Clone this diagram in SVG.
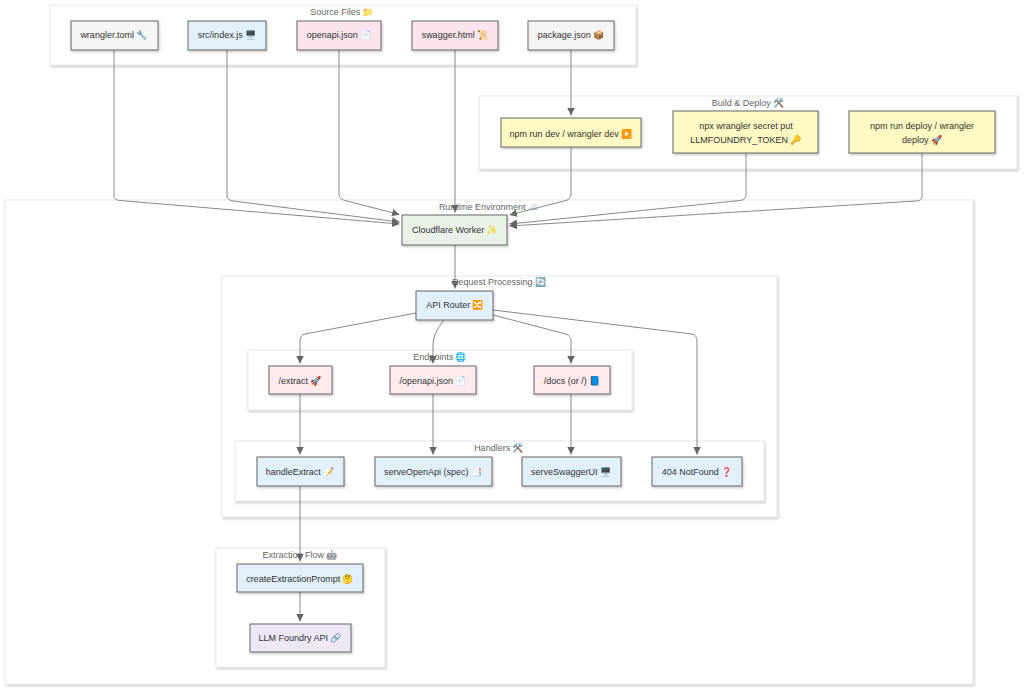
<svg xmlns="http://www.w3.org/2000/svg" width="1024" height="690" viewBox="0 0 1024 690">
<defs>
<marker id="arrow" viewBox="0 0 10 10" refX="10" refY="5" markerWidth="7.5" markerHeight="7.5" markerUnits="userSpaceOnUse" orient="auto"><path d="M0 0L10 5L0 10Z" fill="#666"/></marker>
<filter id="sh" x="-10%" y="-10%" width="120%" height="125%"><feDropShadow dx="1" dy="1.5" stdDeviation="1.3" flood-color="#000" flood-opacity=".22"/></filter>
</defs>
<style>
text{font-family:"Liberation Sans",Arial,"Noto Color Emoji",sans-serif;font-size:9px;fill:#333;text-anchor:middle}
.t{fill:#666}
.c rect{fill:#fff;stroke:#e8e8e8;stroke-width:1;filter:url(#sh)}
.n rect{stroke:#666;stroke-width:1;filter:url(#sh)}
.gray rect{fill:#f5f5f5}.blue rect{fill:#e1f0fb}.pink rect{fill:#fce4ec}.yel rect{fill:#fff9c4}.grn rect{fill:#e8f2e6}.rose rect{fill:#ffebee}.pur rect{fill:#ede7f6}
#connectors path{fill:none;stroke:#888;stroke-width:1;marker-end:url(#arrow)}
</style>
<rect width="1024" height="690" fill="#fff"/>
<g id="cluster-source" class="c"><rect x="50" y="5" width="586" height="60"/><text class="t" x="342" y="14.500">Source Files 📁</text></g>
<g id="cluster-build" class="c"><rect x="479" y="96" width="538" height="73"/><text class="t" x="748" y="105.500">Build &amp; Deploy 🛠️</text></g>
<g id="cluster-runtime" class="c"><rect x="5" y="200" width="968" height="484"/><text class="t" x="489" y="210">Runtime Environment ☁️</text></g>
<g id="cluster-request" class="c"><rect x="222" y="276" width="555" height="241"/><text class="t" x="499" y="285">Request Processing 🔄</text></g>
<g id="cluster-endpoints" class="c"><rect x="248" y="350" width="384" height="60"/><text class="t" x="440" y="360">Endpoints 🌐</text></g>
<g id="cluster-handlers" class="c"><rect x="235" y="441" width="529" height="60"/><text class="t" x="499" y="451">Handlers 🛠️</text></g>
<g id="cluster-extraction" class="c"><rect x="216" y="548" width="169" height="119"/><text class="t" x="300" y="558">Extraction Flow 🤖</text></g>
<g id="connectors">
<path d="M114 50V196Q114 200 120 200.500L399.500 224"/>
<path d="M227 50V196Q227 200 233 201L399.500 222"/>
<path d="M339 50V194Q339 199 345 200.500L399.500 214.500"/>
<path d="M455 50V212.500"/>
<path d="M571 50V115.500"/>
<path d="M571 147V194Q571 199 566 200.500L509.500 215"/>
<path d="M746 153V194Q746 200 740 200.500L509.500 224"/>
<path d="M922 153V196Q922 201 916 201L509.500 226"/>
<path d="M455 245V288.500"/>
<path d="M416 313L305 334Q300 335 300 341V363.500"/>
<path d="M444 320Q433 333 433 345V363.500"/>
<path d="M493 315L566 334Q571 336 571 341V363.500"/>
<path d="M493 310L692 334Q697 335 697 341V454.500"/>
<path d="M300 394V454.500"/>
<path d="M433 394V454.500"/>
<path d="M571 394V454.500"/>
<path d="M300 486V561.500"/>
<path d="M300 592V621.500"/>
</g>
<g id="wrangler" class="n gray"><rect x="71" y="21" width="87" height="29"/><text x="114" y="38">wrangler.toml 🔧</text></g>
<g id="index" class="n blue"><rect x="188" y="21" width="78" height="29"/><text x="227" y="38">src/index.js 🖥️</text></g>
<g id="openapi" class="n pink"><rect x="297" y="21" width="84" height="29"/><text x="339" y="38">openapi.json 📄</text></g>
<g id="swagger" class="n pink"><rect x="412" y="21" width="86" height="29"/><text x="455" y="38">swagger.html 📜</text></g>
<g id="package" class="n gray"><rect x="528" y="21" width="86" height="29"/><text x="571" y="38">package.json 📦</text></g>
<g id="dev" class="n yel"><rect x="501" y="118" width="140" height="29"/><text x="571" y="136.500">npm run dev / wrangler dev ▶️</text></g>
<g id="secret" class="n yel"><rect x="673" y="111" width="145" height="42"/><text x="746" y="129">npx wrangler secret put</text><text x="746" y="142.500">LLMFOUNDRY_TOKEN 🔑</text></g>
<g id="deploy" class="n yel"><rect x="849" y="111" width="146" height="42"/><text x="922" y="129">npm run deploy / wrangler</text><text x="922" y="142.500">deploy 🚀</text></g>
<g id="worker" class="n grn"><rect x="402" y="215" width="105" height="30"/><text x="455" y="233">Cloudflare Worker ✨</text></g>
<g id="router" class="n blue"><rect x="416" y="291" width="77" height="29"/><text x="455" y="308">API Router 🔀</text></g>
<g id="extract" class="n rose"><rect x="269" y="366" width="63" height="28"/><text x="300" y="384">/extract 🚀</text></g>
<g id="openapi-ep" class="n rose"><rect x="390" y="366" width="86" height="28"/><text x="433" y="384">/openapi.json 📄</text></g>
<g id="docs" class="n rose"><rect x="534" y="366" width="76" height="28"/><text x="572" y="384">/docs (or /) 📘</text></g>
<g id="handleExtract" class="n blue"><rect x="257" y="457" width="87" height="29"/><text x="300" y="475">handleExtract 📝</text></g>
<g id="serveOpenApi" class="n blue"><rect x="375" y="457" width="117" height="29"/><text x="433" y="475">serveOpenApi (spec) 📑</text></g>
<g id="serveSwagger" class="n blue"><rect x="522" y="457" width="99" height="29"/><text x="571" y="475">serveSwaggerUI 🖥️</text></g>
<g id="notfound" class="n blue"><rect x="652" y="457" width="90" height="29"/><text x="697" y="475">404 NotFound ❓</text></g>
<g id="prompt" class="n blue"><rect x="237" y="564" width="126" height="28"/><text x="300" y="581.500">createExtractionPrompt 🤔</text></g>
<g id="llm" class="n pur"><rect x="250" y="624" width="101" height="28"/><text x="300" y="641">LLM Foundry API 🔗</text></g>
</svg>
